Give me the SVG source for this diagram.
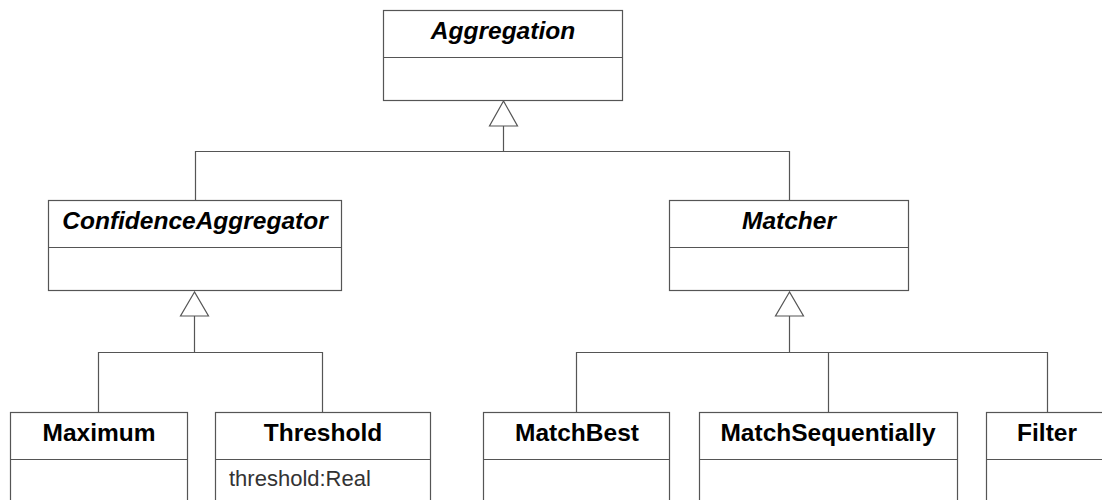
<svg xmlns="http://www.w3.org/2000/svg" width="1102" height="500" viewBox="0 0 1102 500">
  <style>
    .box { fill: #ffffff; stroke: #555555; stroke-width: 1.2; }
    .div { stroke: #555555; stroke-width: 1.2; }
    .title { font-family: "Liberation Sans", Arial, sans-serif; font-size: 24.5px; font-weight: bold; fill: #000000; text-anchor: middle; }
    .abstract { font-style: italic; }
    .attr { font-family: "Liberation Sans", Arial, sans-serif; font-size: 22px; fill: #333333; }
    .edge { fill: none; stroke: #555555; stroke-width: 1.2; }
    .head { fill: #ffffff; stroke: #555555; stroke-width: 1.2; }
  </style>

  <!-- generalization connectors -->
  <g id="connectors">
    <!-- ConfidenceAggregator, Matcher -> Aggregation -->
    <path class="edge" d="M195.5,200 V151.5 H789.5 V200 M503.5,151.5 V126"/>
    <polygon class="head" points="503.5,101 489.5,126 517.5,126"/>
    <!-- Maximum, Threshold -> ConfidenceAggregator -->
    <path class="edge" d="M98.5,412 V352.5 H322.5 V412 M194.5,352.5 V316"/>
    <polygon class="head" points="194.5,292 180.5,316 208.5,316"/>
    <!-- MatchBest, MatchSequentially, Filter -> Matcher -->
    <path class="edge" d="M576.5,412 V352.5 H1047.5 V412 M828.5,352.5 V412 M789.5,352.5 V316"/>
    <polygon class="head" points="789.5,292 775.5,316 803.5,316"/>
  </g>

  <g id="Aggregation">
    <rect class="box" x="383.5" y="10.5" width="239" height="90"/>
    <line class="div" x1="383.5" y1="57.5" x2="622.5" y2="57.5"/>
    <text class="title abstract" x="503" y="39">Aggregation</text>
  </g>

  <g id="ConfidenceAggregator">
    <rect class="box" x="48.5" y="200.5" width="293" height="90"/>
    <line class="div" x1="48.5" y1="247.5" x2="341.5" y2="247.5"/>
    <text class="title abstract" x="195" y="229">ConfidenceAggregator</text>
  </g>

  <g id="Matcher">
    <rect class="box" x="669.5" y="200.5" width="239" height="90"/>
    <line class="div" x1="669.5" y1="247.5" x2="908.5" y2="247.5"/>
    <text class="title abstract" x="789" y="229">Matcher</text>
  </g>

  <g id="Maximum">
    <rect class="box" x="10.5" y="412.5" width="177" height="95"/>
    <line class="div" x1="10.5" y1="459.5" x2="187.5" y2="459.5"/>
    <text class="title" x="99" y="441">Maximum</text>
  </g>

  <g id="Threshold">
    <rect class="box" x="215.5" y="412.5" width="215" height="95"/>
    <line class="div" x1="215.5" y1="459.5" x2="430.5" y2="459.5"/>
    <text class="title" x="323" y="441">Threshold</text>
    <text class="attr" x="229" y="486">threshold:Real</text>
  </g>

  <g id="MatchBest">
    <rect class="box" x="483.5" y="412.5" width="186" height="95"/>
    <line class="div" x1="483.5" y1="459.5" x2="669.5" y2="459.5"/>
    <text class="title" x="577" y="441">MatchBest</text>
  </g>

  <g id="MatchSequentially">
    <rect class="box" x="699.5" y="412.5" width="258" height="95"/>
    <line class="div" x1="699.5" y1="459.5" x2="957.5" y2="459.5"/>
    <text class="title" x="828" y="441">MatchSequentially</text>
  </g>

  <g id="Filter">
    <rect class="box" x="986.5" y="412.5" width="122" height="95"/>
    <line class="div" x1="986.5" y1="459.5" x2="1108.5" y2="459.5"/>
    <text class="title" x="1047" y="441">Filter</text>
  </g>
</svg>
